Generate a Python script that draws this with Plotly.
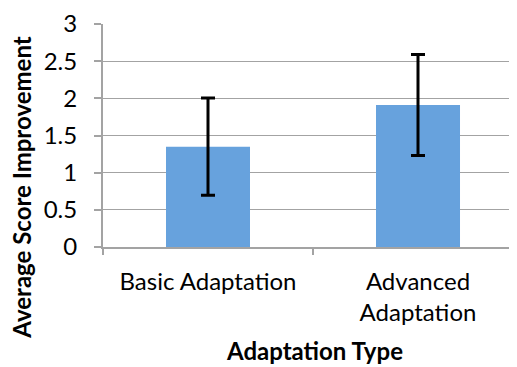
import plotly.graph_objects as go

categories = ["Basic Adaptation", "Advanced Adaptation"]
tick_labels = ["Basic Adaptation", "Advanced<br>Adaptation"]
mean_improvement = [1.35, 1.91]
error_values = [0.655, 0.68]

y_ticks = [0, 0.5, 1, 1.5, 2, 2.5, 3]
y_tick_text = ["0", "0.5", "1", "1.5", "2", "2.5", "3"]

x_title = "Adaptation Type"
y_title = "Average Score Improvement"

FONT = "Lato"
GRID = "#A3A3A3"
FS = 24

fig = go.Figure(
    go.Bar(
        x=categories,
        y=mean_improvement,
        width=0.4,
        marker=dict(color="#67A2DD", line=dict(width=0)),
        error_y=dict(type="data", array=error_values, visible=True,
                     color="black", thickness=3, width=7),
    )
)

# page body has an 8px default margin, so the figure is sized/offset to compensate
fig.update_layout(
    width=509, height=359,
    margin=dict(l=95, r=0, t=16, b=120, pad=0),
    paper_bgcolor="white", plot_bgcolor="white",
    font=dict(family=FONT, size=FS, color="black"),
    showlegend=False,
    annotations=[
        dict(text="<b>" + y_title + "</b>", textangle=-90,
             xref="paper", yref="paper", x=-0.1957, y=0.266,
             xanchor="center", yanchor="middle", showarrow=False,
             font=dict(family=FONT, size=FS, color="black")),
        dict(text="<b>" + x_title + "</b>",
             xref="paper", yref="paper", x=0.511, y=-0.462,
             xanchor="center", yanchor="middle", showarrow=False,
             borderpad=0,
             font=dict(family=FONT, size=FS, color="black")),
    ],
)

fig.update_xaxes(
    type="category",
    automargin=False,
    range=[-0.5, 1.4714],
    tickmode="array", tickvals=categories, ticktext=tick_labels,
    tickson="boundaries",
    ticks="outside", ticklen=6, tickcolor=GRID, tickwidth=1.5,
    showline=True, linecolor=GRID, linewidth=1.5,
    showgrid=False,
    ticklabelstandoff=12,
    tickfont=dict(family=FONT, size=FS, color="black"),
)

fig.update_yaxes(
    automargin=False,
    range=[0, 3],
    tickmode="array", tickvals=y_ticks, ticktext=y_tick_text,
    ticks="outside", ticklen=7, tickcolor=GRID, tickwidth=1.5,
    showline=True, linecolor=GRID, linewidth=2,
    showgrid=True, gridcolor=GRID, gridwidth=1.3,
    zeroline=False,
    ticklabelstandoff=12,
    tickfont=dict(family=FONT, size=FS, color="black"),
)

fig.write_html("out.html")
